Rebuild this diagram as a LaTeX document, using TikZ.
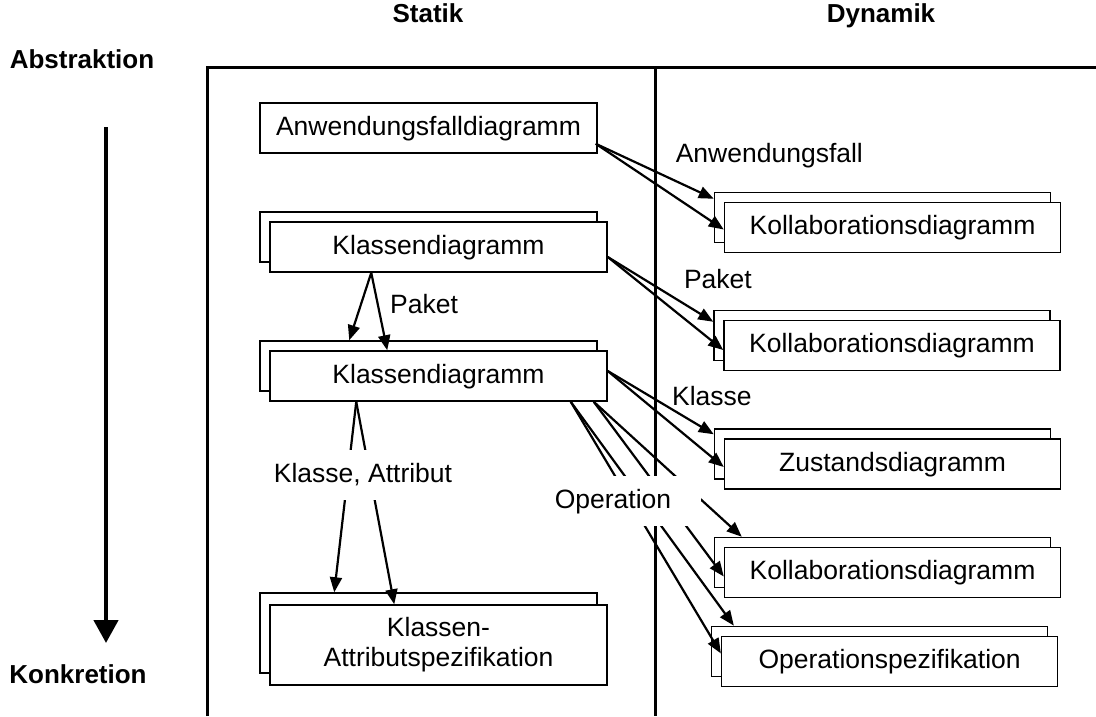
\documentclass[tikz,border=0pt]{standalone}
\usepackage{fontspec}
\setmainfont{Liberation Sans}
\usetikzlibrary{arrows.meta,calc}
\begin{document}
\begin{tikzpicture}[x=1pt,y=-1pt,
  head/.style={font=\fontsize{26}{30}\selectfont\bfseries,inner sep=0pt},
  doc/.style={draw,line width=1.5pt,fill=white,minimum width=337pt,minimum height=50pt,inner sep=0pt,
    text height=19pt,text depth=5pt,font=\fontsize{26.5}{30}\selectfont},
  rdoc/.style={doc,minimum width=336pt},
  conn/.style={line width=2.2pt,-{Triangle[length=15pt,width=12pt]}},
  lbl/.style={font=\fontsize{26.5}{30}\selectfont,inner sep=0pt},
  cover/.style={lbl,fill=white,minimum height=50pt,text height=19pt,text depth=5pt},
  frameline/.style={line width=3pt}]
\useasboundingbox (0,0) rectangle (1096,716);
% frame
\coordinate (ftl) at (207,67.5);
\coordinate (ftr) at (1096,67.5);
\coordinate (fbl) at (207,716);
\coordinate (fmt) at (655.5,67.5);
\coordinate (fmb) at (655.5,716);
\draw[frameline] (fbl) -- (ftl) -- (ftr);
\draw[frameline] (fmt) -- (fmb);
% headings
\node[head,anchor=base] (statik) at (428,22) {Statik};
\node[head,anchor=base] (dynamik) at (881,22) {Dynamik};
\node[head,anchor=base] (abs) at (82,68) {Abstraktion};
\node[head,anchor=base] (kon) at (78,683) {Konkretion};
% abstraction arrow
\coordinate (ar0) at (106,127);
\coordinate (ar1) at (106,643);
\draw[line width=4.5pt,-{Triangle[length=23pt,width=24pt]}] (ar0) -- (ar1);
% left boxes
\node[doc] (aw) at (428.5,128) {Anwendungsfalldiagramm};
\node[doc] (kd1b) at (428.5,237) {};
\node[doc] (kd1) at (438.5,247) {Klassendiagramm};
\node[doc] (kd2b) at (428.5,366) {};
\node[doc] (kd2) at (438.5,376) {Klassendiagramm};
\node[doc,minimum height=80pt] (kasb) at (428.5,633) {};
\node[doc,minimum height=80pt,align=center,text height=,text depth=] (kas) at (438.5,645) {Klassen-\\Attributspezifikation};
% right boxes
\node[rdoc] (kol1b) at (882.5,217.5) {};
\node[rdoc] (kol1) at (892.5,227.5) {Kollaborationsdiagramm};
\node[rdoc] (kol2b) at (882,335.5) {};
\node[rdoc] (kol2) at (892,345.5) {Kollaborationsdiagramm};
\node[rdoc] (zusb) at (882.5,454) {};
\node[rdoc] (zus) at (892.5,464) {Zustandsdiagramm};
\node[rdoc] (kol3b) at (882.5,562.5) {};
\node[rdoc] (kol3) at (892.5,572.5) {Kollaborationsdiagramm};
\node[rdoc] (opsb) at (879.6,651.4) {};
\node[rdoc] (ops) at (889.6,661.4) {Operationspezifikation};
% connectors
\coordinate (sAw) at ($(aw.south east)+(-2,-10)$);
\draw[conn] (sAw) -- ($(kol1b.north west)+(0,7)$);
\draw[conn] (sAw) -- ($(kol1.west)+(0,2)$);
\coordinate (sK1) at ($(kd1.east)+(0,10)$);
\draw[conn] (sK1) -- ($(kol2b.north west)+(0,12)$);
\draw[conn] (sK1) -- ($(kol2.west)+(0,4.5)$);
\coordinate (sP) at ($(kd1.south west)+(102,0)$);
\draw[conn] (sP) -- ($(kd2b.north west)+(90,0)$);
\draw[conn] (sP) -- ($(kd2.north west)+(118,0)$);
\coordinate (sK2) at ($(kd2.east)+(0,-5)$);
\draw[conn] (sK2) -- ($(zusb.north west)+(0,6)$);
\draw[conn] (sK2) -- ($(zus.west)+(0,3)$);
\coordinate (sO2) at ($(kd2.south east)+(-14,0)$);
\draw[conn] (sO2) -- ($(kol3b.north west)+(28,0)$);
\draw[conn] (sO2) -- ($(kol3.west)+(0,4)$);
\coordinate (sO1) at ($(kd2.south east)+(-37,0)$);
\draw[conn] (sO1) -- ($(opsb.north west)+(23,0)$);
\draw[conn] (sO1) -- ($(ops.west)+(0,-8)$);
\coordinate (sKA) at ($(kd2.south west)+(87,0)$);
\draw[conn] (sKA) -- ($(kasb.north west)+(75,0)$);
\draw[conn] (sKA) -- ($(kas.north west)+(125,0)$);
% labels
\node[lbl,anchor=base west] (lAnw) at (675.6,162.7) {Anwendungsfall};
\node[lbl,anchor=base west] (lPak2) at (683.8,288.3) {Paket};
\node[lbl,anchor=base west] (lPak1) at (390,313) {Paket};
\node[lbl,anchor=base west] (lKla) at (671.9,405) {Klasse};
\node[cover,inner xsep=6pt] (lKA) at (363,475) {Klasse, Attribut};
\node[cover,inner xsep=30pt] (lOp) at (613,501) {Operation};
\end{tikzpicture}
\end{document}
